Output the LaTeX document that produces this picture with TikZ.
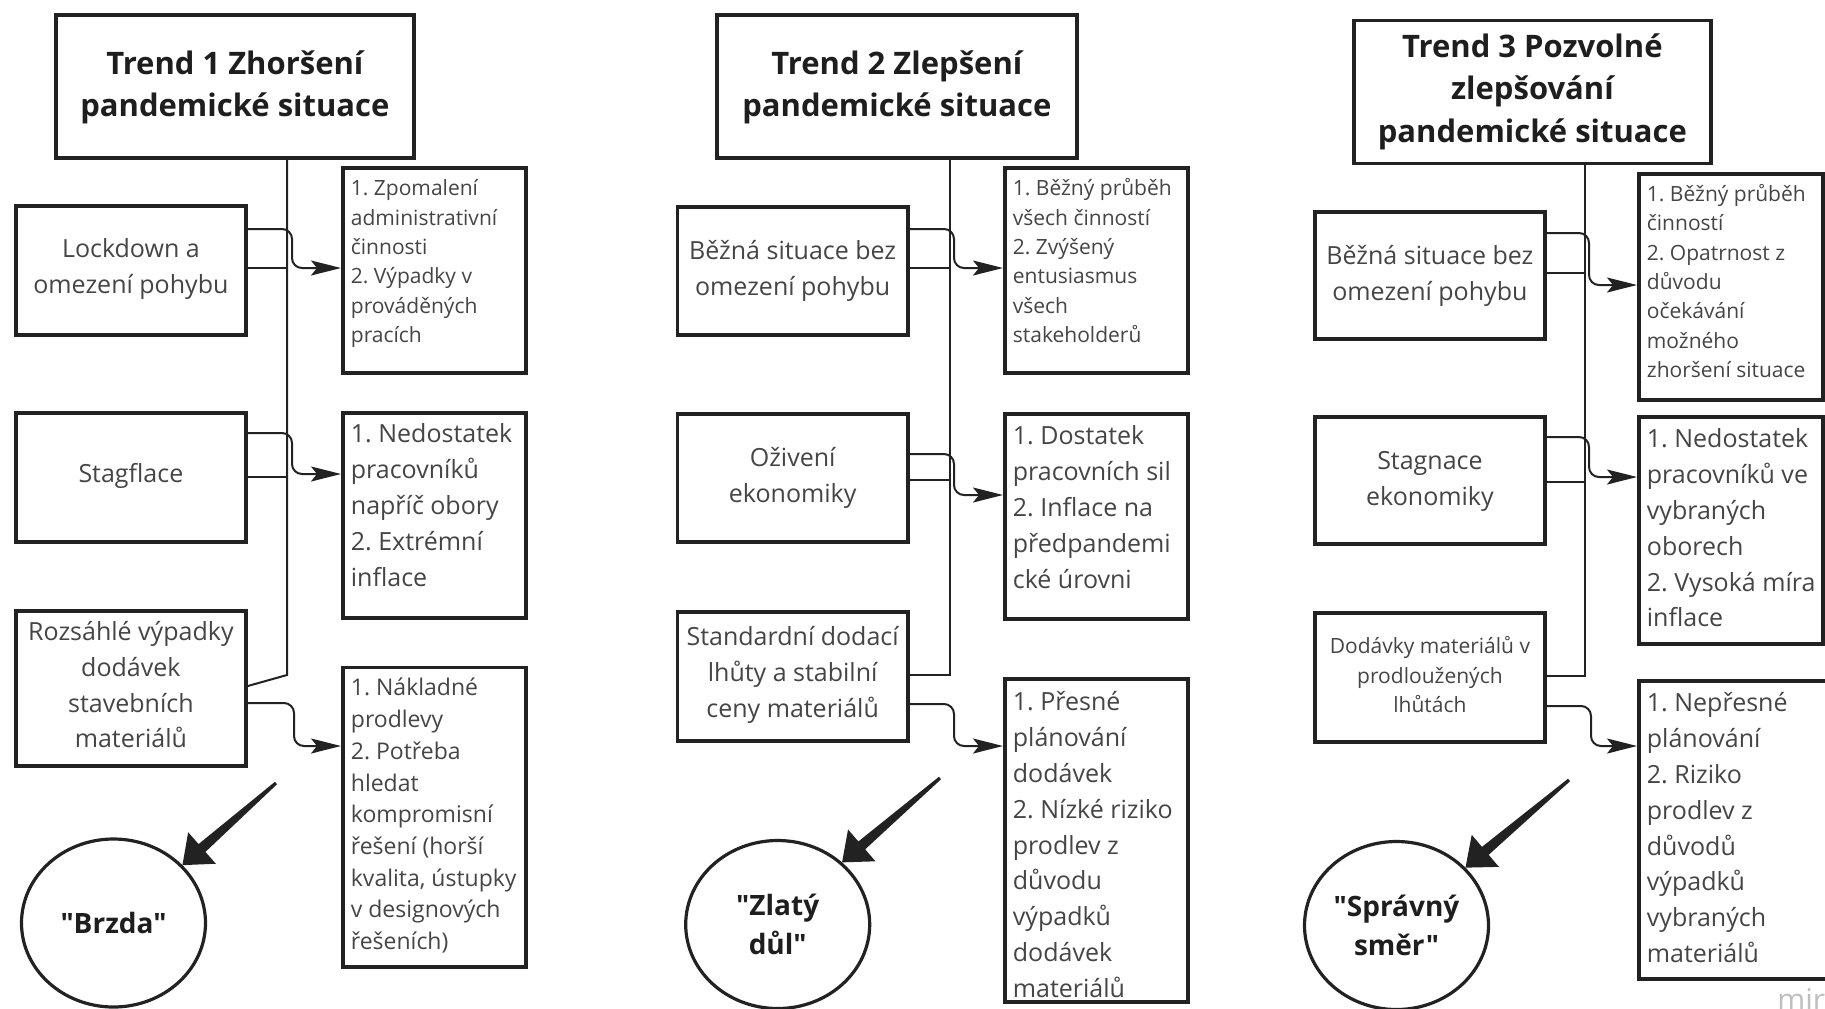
\documentclass[tikz,border=0pt]{standalone}
\usepackage{fontspec}
\setmainfont{Open Sans}[Ligatures=TeXOff]
\usetikzlibrary{arrows.meta,calc,shapes.geometric}
\definecolor{ink}{HTML}{222222}
\definecolor{txt}{HTML}{454545}
\definecolor{ttl}{HTML}{1E1E1E}
\tikzset{
  box/.style={draw=ink, line width=1.9pt, inner sep=0pt, fill=white},
  tbox/.style={box, text=ttl, font=\fontsize{15.5}{21.2}\selectfont\bfseries},
  lbox/.style={box, text=txt, font=\fontsize{12.5}{17.8}\selectfont},
  lsmall/.style={box, text=txt, font=\fontsize{10.5}{14.6}\selectfont},
  rbox/.style={box, text=txt},
  rs/.style={font=\fontsize{10.5}{14.65}\selectfont},
  rm/.style={font=\fontsize{11.5}{15.85}\selectfont},
  rl/.style={font=\fontsize{12.5}{17.9}\selectfont},
  ell/.style={draw=ink, line width=1.6pt, ellipse, minimum width=92pt, minimum height=84pt,
    inner sep=0pt, align=center, text=ttl, font=\fontsize{14}{19.5}\selectfont\bfseries},
  conn/.style={draw=ink, line width=1pt},
  arr/.style={conn, rounded corners=5pt, -{Stealth[length=15pt,width=7.5pt,inset=3pt]}},
}
% #1 style, #2 name, #3 x1, #4 y1, #5 x2, #6 y2, #7 first-baseline offset (px), #8 text
\newcommand\resbox[8]{%
  \node[rbox,#1,anchor=north west] (#2) at (#3,#4) {%
    \begin{minipage}[c][\dimexpr(#6pt-#4pt)/2\relax][t]{\dimexpr(#5pt-#3pt)/2\relax}%
      \raggedright\leftskip=4pt\relax
      \rule{0pt}{\dimexpr#7pt/2\relax}#8%
    \end{minipage}};%
}
\newcommand\cenbox[8]{%
  \node[#1,anchor=north west] (#2) at (#3,#4) {%
    \begin{minipage}[c][\dimexpr(#6pt-#4pt)/2\relax][t]{\dimexpr(#5pt-#3pt)/2\relax}%
      \centering
      \rule{0pt}{\dimexpr#7pt/2\relax}#8%
    \end{minipage}};%
}
% #1 tail coordinate, #2 tip
\newcommand\fatarrow[2]{%
  \path ($(#2)!13pt!(#1)$) coordinate (fab);
  \fill[ink] ($(#1)!0.8pt!90:(#2)$) -- ($(fab)!2.6pt!90:(#2)$) -- ($(fab)!10.5pt!90:(#2)$)
     -- (#2) -- ($(fab)!10.5pt!-90:(#2)$) -- ($(fab)!2.6pt!-90:(#2)$)
     -- ($(#1)!0.8pt!-90:(#2)$) -- cycle;%
}
\begin{document}
\begin{tikzpicture}[x=0.5pt,y=-0.5pt]
\fill[white] (0,0) rectangle (1825,1008);
\useasboundingbox (0,0) rectangle (1825,1008);

% ---------- column 1
\cenbox{tbox}{T1}{54}{13}{412}{156}{59.5}{Trend~1~Zhoršení\\pandemické~situace}
\cenbox{lbox}{L1}{14}{204}{244}{333}{52}{Lockdown~a\\omezení~pohybu}
\cenbox{lbox}{L2}{14}{411}{244}{540}{70}{Stagflace}
\cenbox{lbox}{L3}{14}{609}{244}{764}{30}{Rozsáhlé~výpadky\\dodávek\\stavebních\\materiálů}
\resbox{rs}{R1}{341}{166}{524}{371}{28}{1.~Zpomalení\\administrativní\\činnosti\\2.~Výpadky~v\\prováděných\\pracích}
\resbox{rl}{R2}{341}{411}{524}{616}{30}{1.~Nedostatek\\pracovníků\\napříč~obory\\2.~Extrémní\\inflace}
\resbox{rm}{R3}{341}{665.5}{524}{965}{28.5}{1.~Nákladné\\prodlevy\\2.~Potřeba\\hledat\\kompromisní\\řešení~(horší\\kvalita,~ústupky\\v~designových\\řešeních)}
\node[ell] (C1) at (113.5,923) {"Brzda"};

% ---------- column 2
\cenbox{tbox}{T2}{715}{13}{1075}{156}{59.5}{Trend~2~Zlepšení\\pandemické~situace}
\cenbox{lbox}{B2}{675.5}{205}{906}{333}{53}{Běžná~situace~bez\\omezení~pohybu}
\cenbox{lbox}{O2}{675.5}{412}{906}{540}{53}{Oživení\\ekonomiky}
\cenbox{lbox}{S2}{675.5}{610}{906}{739}{34}{Standardní~dodací\\lhůty~a~stabilní\\ceny~materiálů}
\resbox{rs}{R21}{1003}{166}{1186}{371}{28}{1.~Běžný~průběh\\všech~činností\\2.~Zvýšený\\entusiasmus\\všech\\stakeholderů}
\resbox{rl}{R22}{1003}{412}{1186}{617}{31}{1.~Dostatek\\pracovních~sil\\2.~Inflace~na\\předpandemi\\cké~úrovni}
\resbox{rl}{R23}{1003}{677}{1186}{1000}{32}{1.~Přesné\\plánování\\dodávek\\2.~Nízké~riziko\\prodlev~z\\důvodu\\výpadků\\dodávek\\materiálů}
\node[ell] (C2) at (777.7,924.5) {"Zlatý\\důl"};

% ---------- column 3
\cenbox{tbox}{T3}{1352}{18.5}{1709}{161.5}{37}{Trend~3~Pozvolné\\zlepšování\\pandemické~situace}
\cenbox{lbox}{B3}{1313}{210}{1543}{337}{53}{Běžná~situace~bez\\omezení~pohybu}
\cenbox{lbox}{St3}{1313}{415}{1543}{542}{53}{Stagnace\\ekonomiky}
\cenbox{lsmall}{D3}{1313}{611}{1543}{740}{41}{Dodávky~materiálů~v\\prodloužených\\lhůtách}
\resbox{rs}{R31}{1637}{171.7}{1821}{398}{28}{1.~Běžný~průběh\\činností\\2.~Opatrnost~z\\důvodu\\očekávání\\možného\\zhoršení~situace}
\resbox{rl}{R32}{1637}{415}{1821}{642}{31}{1.~Nedostatek\\pracovníků~ve\\vybraných\\oborech\\2.~Vysoká~míra\\inflace}
\resbox{rl}{R33}{1637}{679}{1828}{977}{31}{1.~Nepřesné\\plánování\\2.~Riziko\\prodlev~z\\důvodů\\výpadků\\vybraných\\materiálů}
\node[ell] (C3) at (1396.5,925.5) {"Správný\\směr"};

% ---------- trunks
\coordinate (k1) at (287,675);
\coordinate (k2) at (949.5,674.6);
\coordinate (k3) at (1584.5,675.6);
\draw[conn] (T1.south -| k1) -- (k1) -- (L3.east |- 0,686);
\draw[conn] (T2.south -| k2) -- (k2) -- (S2.east |- k2);
\draw[conn] (T3.south -| k3) -- (k3) -- (D3.east |- k3);

% ---------- branches into trunks
\draw[conn] (L1.east |- 0,268) -- (k1 |- 0,268);
\draw[conn] (L2.east |- 0,477) -- (k1 |- 0,477);
\draw[conn] (B2.east |- 0,268) -- (k2 |- 0,268);
\draw[conn] (O2.east |- 0,480) -- (k2 |- 0,480);
\draw[conn] (B3.east |- 0,273) -- (k3 |- 0,273);
\draw[conn] (St3.east |- 0,481.7) -- (k3 |- 0,481.7);

% ---------- arrows to result boxes
\draw[arr] (L1.east |- 0,229) -| (292,268) -- (R1.west |- 0,268);
\draw[arr] (L2.east |- 0,433) -| (292,474) -- (R2.west |- 0,474);
\draw[arr] (L3.east |- 0,703) -| (294,746) -- (R3.west |- 0,746);
\draw[arr] (B2.east |- 0,229) -| (954,268) -- (R21.west |- 0,268);
\draw[arr] (O2.east |- 0,454) -| (954,495) -- (R22.west |- 0,495);
\draw[arr] (S2.east |- 0,704) -| (954,746) -- (R23.west |- 0,746);
\draw[arr] (B3.east |- 0,233) -| (1589,285) -- (R31.west |- 0,285);
\draw[arr] (St3.east |- 0,437) -| (1589,477) -- (R32.west |- 0,477);
\draw[arr] (D3.east |- 0,706) -| (1591,746) -- (R33.west |- 0,746);

% ---------- big arrows
\coordinate (a1) at (276,783);
\coordinate (a2) at (940,778);
\coordinate (a3) at (1569,780);
\fatarrow{a1}{C1.40}
\fatarrow{a2}{C2.44}
\fatarrow{a3}{C3.40}

% ---------- watermark
\begin{scope}
\clip (0,0) rectangle (1825,1008);
\node[anchor=base west, inner sep=0pt, text=black!25, font=\fontsize{15}{15}\selectfont] (wm) at (1777,1010) {miro};
\end{scope}
\end{tikzpicture}
\end{document}
